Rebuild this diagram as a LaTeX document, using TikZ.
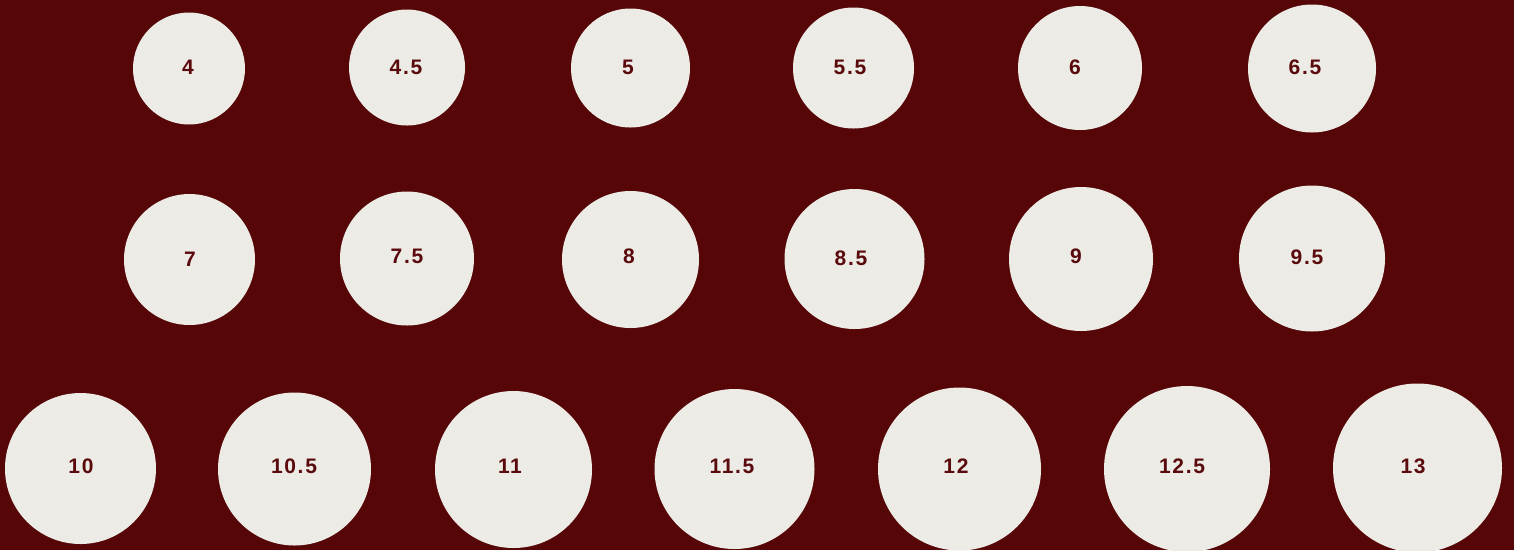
\documentclass[tikz,border=0pt]{standalone}
\usepackage{fontspec}
\setmainfont{Liberation Sans}[LetterSpace=8]
\definecolor{bgred}{HTML}{560607}
\definecolor{disc}{HTML}{ECEBE5}
\definecolor{txt}{HTML}{5A0A0C}
\begin{document}
\begin{tikzpicture}[x=1pt,y=-1pt,
  disk/.style={circle,fill=disc,draw=none,inner sep=0pt,minimum size=#1},
  lbl/.style={text=txt,font=\fontsize{21}{24}\selectfont\bfseries,inner sep=0pt,anchor=center}]
\fill[bgred] (0,0) rectangle (1514,550);
\useasboundingbox (0,0) rectangle (1514,550);
% row 1
\node[disk=112pt] (c1) at (189,68.5) {};
\node[disk=116pt] (c2) at (407,67.5) {};
\node[disk=119pt] (c3) at (630.5,68) {};
\node[disk=121pt] (c4) at (853.5,68) {};
\node[disk=124pt] (c5) at (1080,68) {};
\node[disk=128pt] (c6) at (1312,68.5) {};
% row 2
\node[disk=131pt] (c7) at (189.5,259.5) {};
\node[disk=134pt] (c8) at (407,258.5) {};
\node[disk=137pt] (c9) at (630.5,259.5) {};
\node[disk=140pt] (c10) at (854.5,259) {};
\node[disk=144pt] (c11) at (1081,259) {};
\node[disk=146pt] (c12) at (1312,258.5) {};
% row 3
\node[disk=151pt] (c13) at (80.5,468.5) {};
\node[disk=153pt] (c14) at (294.5,469) {};
\node[disk=157pt] (c15) at (513.5,469.5) {};
\node[disk=160pt] (c16) at (734.5,469) {};
\node[disk=163pt] (c17) at (959.5,469) {};
\node[disk=166pt] (c18) at (1187,469) {};
\node[disk=169pt] (c19) at (1417.5,468) {};
% labels
\node[lbl] (l1) at (188,67) {4};
\node[lbl] (l2) at (406,67) {4.5};
\node[lbl] (l3) at (628,67) {5};
\node[lbl] (l4) at (850,67) {5.5};
\node[lbl] (l5) at (1075,67) {6};
\node[lbl] (l6) at (1305,67) {6.5};
\node[lbl] (l7) at (190,259) {7};
\node[lbl] (l8) at (407,256) {7.5};
\node[lbl] (l9) at (629,256) {8};
\node[lbl] (l10) at (851,258) {8.5};
\node[lbl] (l11) at (1076,256) {9};
\node[lbl] (l12) at (1307,257) {9.5};
\node[lbl] (l13) at (81,466) {10};
\node[lbl] (l14) at (294,466) {10.5};
\node[lbl] (l15) at (510,466) {11};
\node[lbl] (l16) at (732,466) {11.5};
\node[lbl] (l17) at (956,466) {12};
\node[lbl] (l18) at (1182,466) {12.5};
\node[lbl] (l19) at (1413,466) {13};
\end{tikzpicture}
\end{document}
